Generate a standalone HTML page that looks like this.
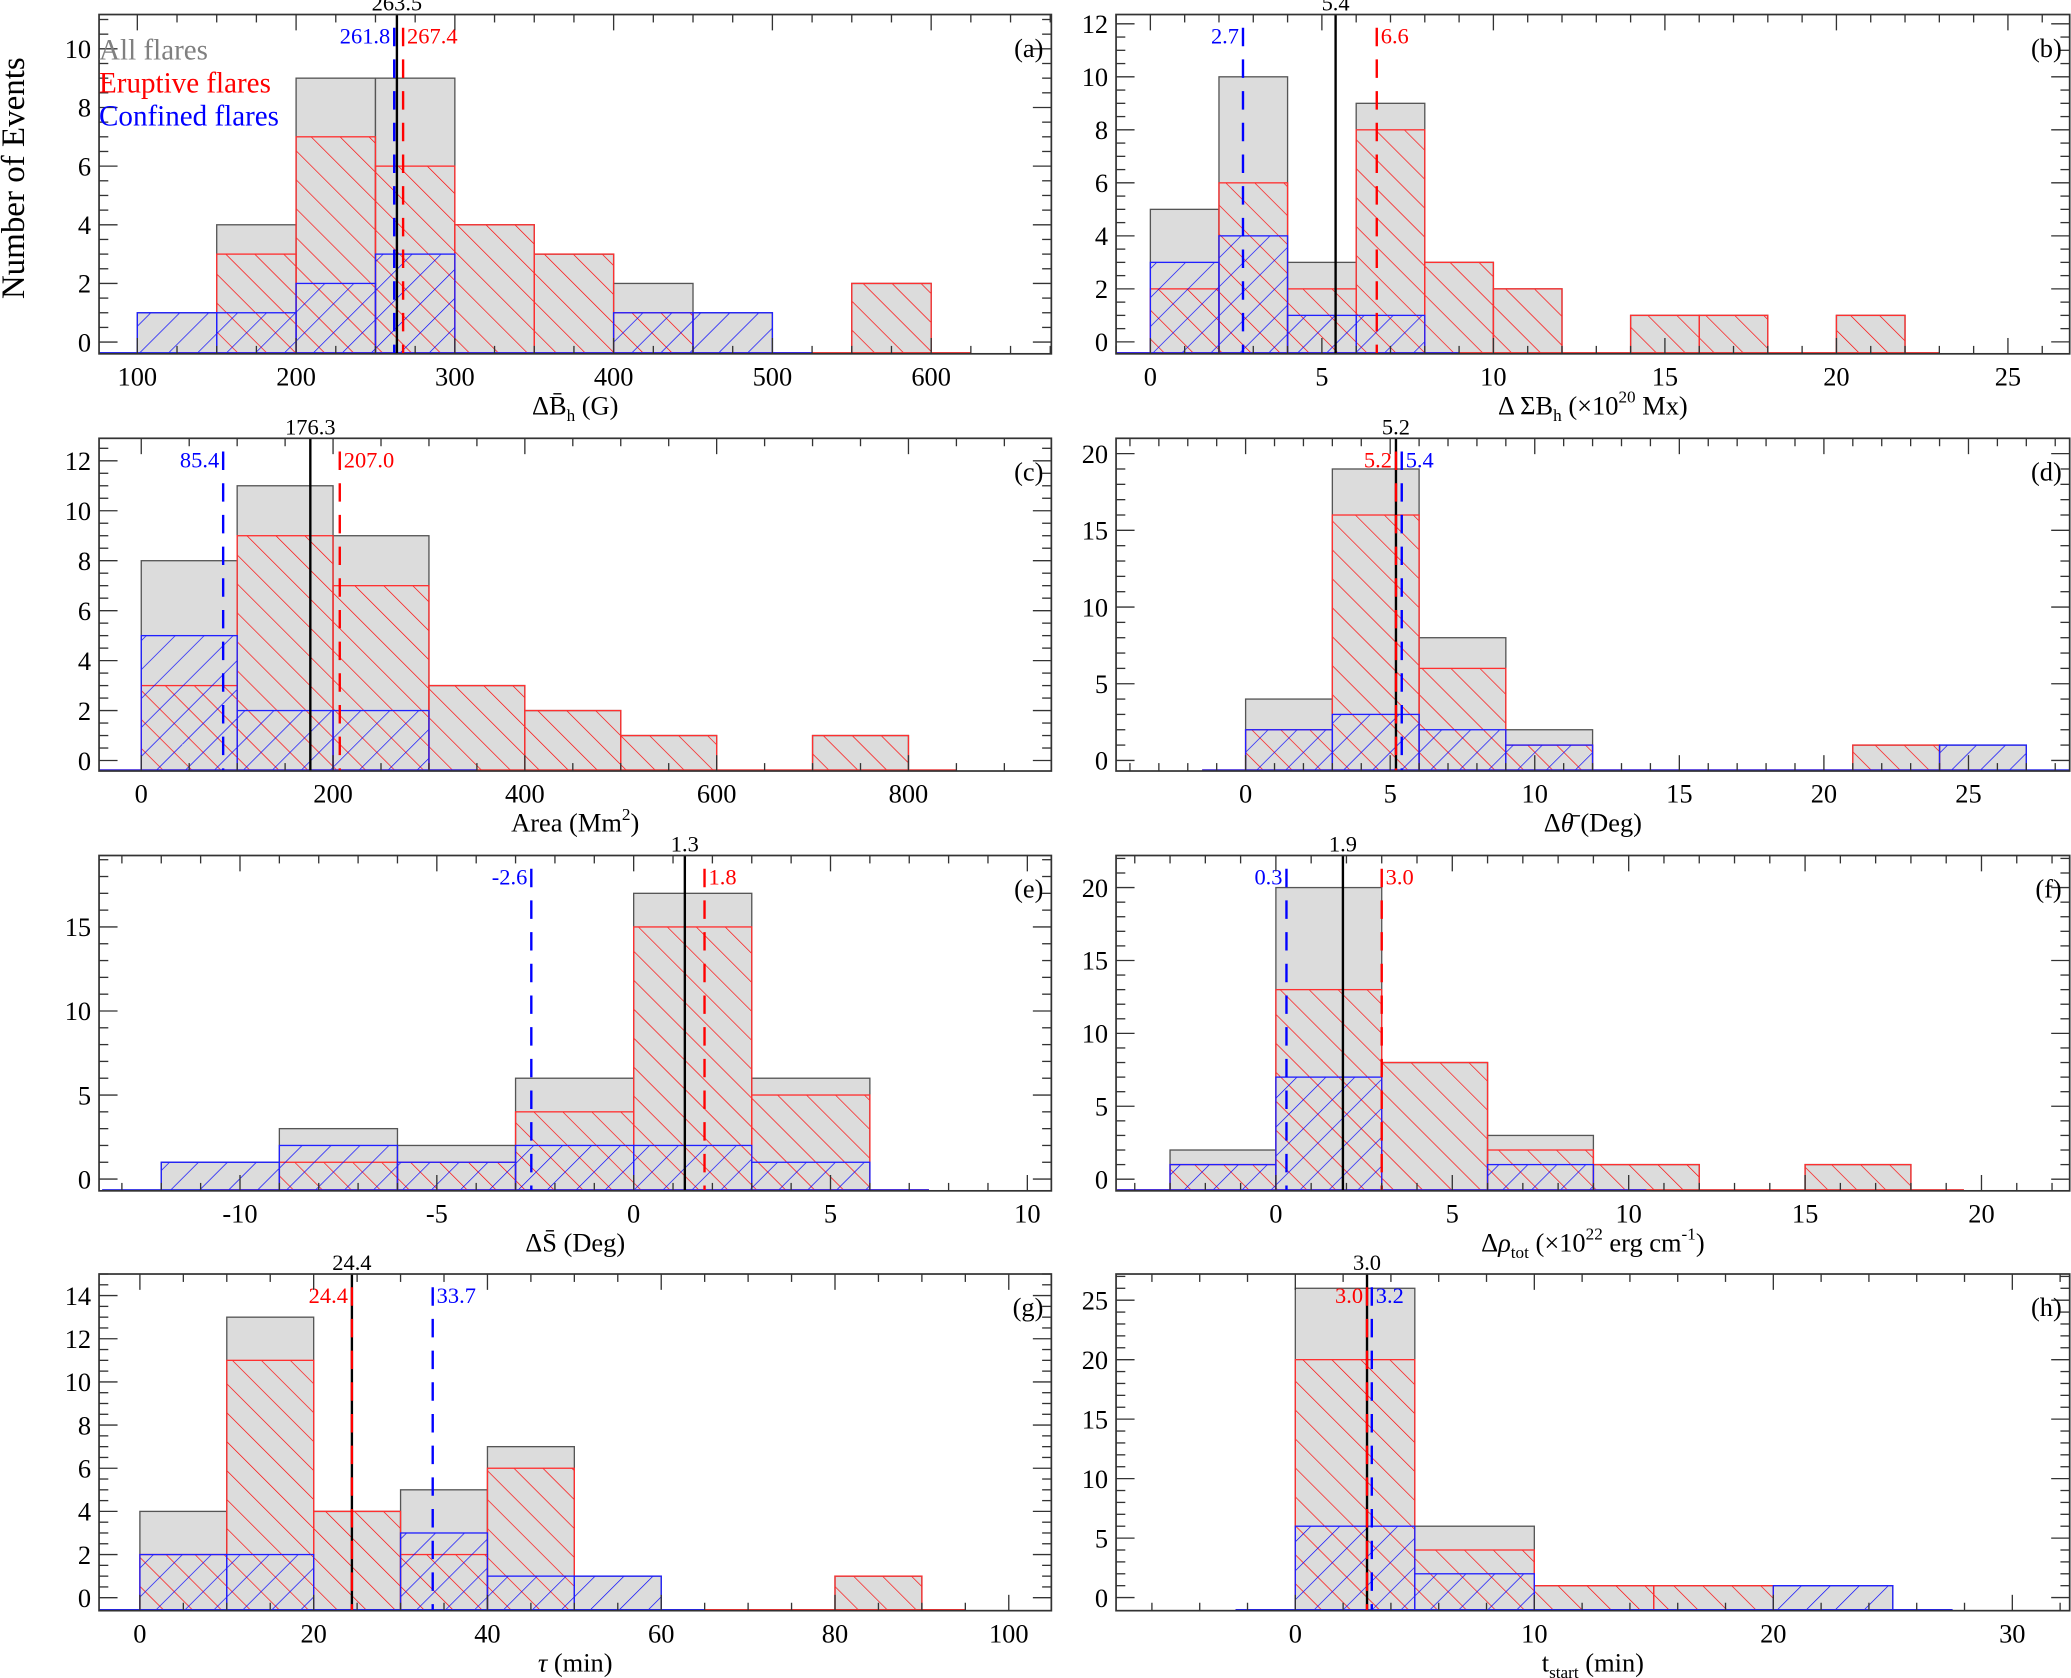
<!DOCTYPE html>
<html><head><meta charset="utf-8">
<style>
html,body{margin:0;padding:0;background:#fff;}
svg{display:block;}
text{font-family:"Liberation Serif",serif;}
</style></head>
<body>
<svg id="fig" width="2071" height="1678" viewBox="0 0 1568 1271" preserveAspectRatio="none" xmlns="http://www.w3.org/2000/svg">
<defs>
<pattern id="hatchRed" patternUnits="userSpaceOnUse" width="15.5" height="15.5" patternTransform="rotate(-45)">
<line x1="0" y1="0" x2="0" y2="15.5" stroke="#ff0000" stroke-width="1"/>
</pattern>
<pattern id="hatchBlue" patternUnits="userSpaceOnUse" width="15.5" height="15.5" patternTransform="rotate(45)">
<line x1="0" y1="0" x2="0" y2="15.5" stroke="#0000ff" stroke-width="1"/>
</pattern>
</defs>
<rect x="0" y="0" width="1568" height="1271" fill="#fff"/>
</svg>
<script>
// ---- Panel (a) ----
const aStart = 100, aWidth = 50;
const aAll = [1,4,9,9,4,3,2,1,0,2];
const aErupt = [0,3,7,6,4,3,1,0,0,2];
const aConf = [1,1,2,3,0,0,1,1,0,0];
const aMeans = [263.5, 261.8, 267.4];
const aXTicks = [100,200,300,400,500,600];
const aYTicks = [0,2,4,6,8,10];
// ---- Panel (b) ----
const bStart = 0, bWidth = 2;
const bAll = [5,10,3,9,3,2,0,1,1,0,1];
const bErupt = [2,6,2,8,3,2,0,1,1,0,1];
const bConf = [3,4,1,1,0,0,0,0,0,0,0];
const bMeans = [5.4, 2.7, 6.6];
const bXTicks = [0,5,10,15,20,25];
const bYTicks = [0,2,4,6,8,10,12];
// ---- Panel (c) ----
const cStart = 0, cWidth = 100;
const cAll = [8,11,9,3,2,1,0,1];
const cErupt = [3,9,7,3,2,1,0,1];
const cConf = [5,2,2,0,0,0,0,0];
const cMeans = [176.3, 85.4, 207.0];
const cXTicks = [0,200,400,600,800];
const cYTicks = [0,2,4,6,8,10,12];
// ---- Panel (d) ----
const dStart = 0, dWidth = 3;
const dAll = [4,19,8,2,0,0,0,1,1];
const dErupt = [2,16,6,1,0,0,0,1,0];
const dConf = [2,3,2,1,0,0,0,0,1];
const dMeans = [5.2, 5.4, 5.2];
const dXTicks = [0,5,10,15,20,25];
const dYTicks = [0,5,10,15,20];
// ---- Panel (e) ----
const eStart = -12, eWidth = 3;
const eAll = [1,3,2,6,17,6];
const eErupt = [0,1,1,4,15,5];
const eConf = [1,2,1,2,2,1];
const eMeans = [1.3, -2.6, 1.8];
const eXTicks = [-10,-5,0,5,10];
const eYTicks = [0,5,10,15];
// ---- Panel (f) ----
const fStart = -3, fWidth = 3;
const fAll = [2,20,8,3,1,0,1];
const fErupt = [1,13,8,2,1,0,1];
const fConf = [1,7,0,1,0,0,0];
const fMeans = [1.9, 0.3, 3.0];
const fXTicks = [0,5,10,15,20];
const fYTicks = [0,5,10,15,20];
// ---- Panel (g) ----
const gStart = 0, gWidth = 10;
const gAll = [4,13,4,5,7,1,0,0,1];
const gErupt = [2,11,4,2,6,0,0,0,1];
const gConf = [2,2,0,3,1,1,0,0,0];
const gMeans = [24.4, 33.7, 24.4];
const gXTicks = [0,20,40,60,80,100];
const gYTicks = [0,2,4,6,8,10,12,14];
// ---- Panel (h) ----
const hStart = 0, hWidth = 5;
const hAll = [26,6,1,1,1];
const hErupt = [20,4,1,1,0];
const hConf = [6,2,0,0,1];
const hMeans = [3.0, 3.2, 3.0];
const hXTicks = [0,10,20,30];
const hYTicks = [0,5,10,15,20,25];

const NS = "http://www.w3.org/2000/svg";
const svg = document.getElementById('fig');
function mk(tag, attrs, parent){
  const e = document.createElementNS(NS, tag);
  for (const k in attrs) e.setAttribute(k, attrs[k]);
  (parent||svg).appendChild(e);
  return e;
}

function drawPanel(p){
  const g = mk('g', {});
  
  
  const X = v => p.L + (v - p.xmin) / (p.xmax - p.xmin) * (p.R - p.L);
  const Y = v => p.B - (v - p.ymin) / (p.ymax - p.ymin) * (p.B - p.T);
  const clipId = 'clip' + p.id;
  const cp = mk('clipPath', {id: clipId}, g);
  mk('rect', {x:p.L, y:p.T, width:p.R-p.L, height:p.B-p.T}, cp);
  const plot = mk('g', {'clip-path':'url(#'+clipId+')'}, g);

  function bars(arr, fill, stroke, name){
    const grp = mk('g', {}, plot);
    
    
    let first=-1, last=-1;
    arr.forEach((v,i)=>{
      if (v<=0) return;
      if (first<0) first=i; last=i;
      const x0 = X(p.start + i*p.w), x1 = X(p.start + (i+1)*p.w);
      const r = mk('rect', {x:x0, y:Y(v), width:x1-x0, height:p.B - Y(v), fill:fill, stroke:stroke, 'stroke-width':1}, grp);
      
      
    });
    if (first>=0){
      mk('line', {x1:X(p.start + first*p.w - p.w/2), x2:X(p.start + (last+1)*p.w + p.w/2), y1:p.B-0.5, y2:p.B-0.5, stroke:stroke, 'stroke-width':1.5}, grp);
    }
  }
  bars(p.all, '#dcdcdc', '#555', 'all-flares-hist');
  bars(p.er, 'url(#hatchRed)', '#ff3030', 'eruptive-flares-hist');
  bars(p.co, 'url(#hatchBlue)', '#2020ff', 'confined-flares-hist');

  const [mAll, mBlue, mRed] = p.means;
  const mg = mk('g', {}, g);
  
  
  mk('line', {x1:X(mAll), x2:X(mAll), y1:p.T, y2:p.B, stroke:'#000', 'stroke-width':1.8}, mg);
  mk('line', {x1:X(mBlue), x2:X(mBlue), y1:p.T+10, y2:p.B, stroke:'#0000ff', 'stroke-width':1.8, 'stroke-dasharray':'14,10'}, mg);
  mk('line', {x1:X(mRed), x2:X(mRed), y1:p.T+10, y2:p.B, stroke:'#ff0000', 'stroke-width':1.8, 'stroke-dasharray':'14,10'}, mg);
  const lt = mk('text', {x:X(mAll), y:p.T-3, 'text-anchor':'middle', 'font-size':17, fill:'#000'}, mg);
  lt.textContent = mAll.toFixed(1);
  
  
  const blueLeft = mBlue < mRed || (mBlue===mRed);
  const bt = mk('text', {x: blueLeft ? X(mBlue)-3 : X(mBlue)+3, y:p.T+22, 'text-anchor': blueLeft?'end':'start', 'font-size':17, fill:'#0000ff'}, mg);
  bt.textContent = mBlue.toFixed(1);
  
  
  const rt = mk('text', {x: blueLeft ? X(mRed)+3 : X(mRed)-3, y:p.T+22, 'text-anchor': blueLeft?'start':'end', 'font-size':17, fill:'#ff0000'}, mg);
  rt.textContent = mRed.toFixed(1);
  
  

  const fr = mk('rect', {x:p.L, y:p.T, width:p.R-p.L, height:p.B-p.T, fill:'none', stroke:'#333', 'stroke-width':1.3}, g);
  
  

  const xa = mk('g', {}, g);
  
  
  const xstep = p.xt[1]-p.xt[0];
  for (let v = p.xt[0] - xstep*3; v <= p.xmax + 1e-9; v += xstep/p.xm){
    if (v < p.xmin - 1e-9) continue;
    const isMaj = Math.abs(((v - p.xt[0]) / xstep) - Math.round((v - p.xt[0]) / xstep)) < 1e-6;
    const len = isMaj ? 12 : 6;
    mk('line', {x1:X(v), x2:X(v), y1:p.B, y2:p.B-len, stroke:'#333', 'stroke-width':1}, xa);
    mk('line', {x1:X(v), x2:X(v), y1:p.T, y2:p.T+len, stroke:'#333', 'stroke-width':1}, xa);
  }
  p.xt.forEach(v=>{
    const t = mk('text', {x:X(v), y:p.B+24, 'text-anchor':'middle', 'font-size':20}, xa);
    t.textContent = v;
    
    
  });
  const ya = mk('g', {}, g);
  
  
  const ystep = p.yt[1]-p.yt[0];
  for (let v = 0; v <= p.ymax + 1e-9; v += ystep/p.ym){
    const isMaj = Math.abs((v/ystep) - Math.round(v/ystep)) < 1e-6;
    const len = isMaj ? 14 : 7;
    mk('line', {x1:p.L, x2:p.L+len, y1:Y(v), y2:Y(v), stroke:'#333', 'stroke-width':1}, ya);
    mk('line', {x1:p.R, x2:p.R-len, y1:Y(v), y2:Y(v), stroke:'#333', 'stroke-width':1}, ya);
  }
  p.yt.forEach(v=>{
    const t = mk('text', {x:p.L-6, y:Y(v)+7, 'text-anchor':'end', 'font-size':20}, ya);
    t.textContent = v;
    
    
  });
  const pl = mk('text', {x:p.R-6, y:p.T+32, 'text-anchor':'end', 'font-size':20}, g);
  pl.textContent = '(' + p.id + ')';
  
  
  const xt = mk('text', {x:(p.L+p.R)/2, y:p.B+46, 'text-anchor':'middle', 'font-size':20}, g);
  xt.innerHTML = p.title;
  
  
}

const LL=75, LR=796, RL=845, RR=1567;
drawPanel({id:'a', L:LL, R:LR, T:11, B:268, xmin:75.9, xmax:675.7, ymin:-0.4, ymax:11.17, start:aStart, w:aWidth, all:aAll, er:aErupt, co:aConf, means:aMeans, xt:aXTicks, xm:4, yt:aYTicks, ym:4,
  title:'ΔB̄<tspan font-size="13" dy="5">h</tspan><tspan dy="-5"> (G)</tspan>'});
drawPanel({id:'b', L:RL, R:RR, T:11, B:268, xmin:-1.0, xmax:26.8, ymin:-0.45, ymax:12.35, start:bStart, w:bWidth, all:bAll, er:bErupt, co:bConf, means:bMeans, xt:bXTicks, xm:5, yt:bYTicks, ym:4,
  title:'Δ ΣB<tspan font-size="13" dy="5">h</tspan><tspan dy="-5"> (×10</tspan><tspan font-size="13" dy="-9">20</tspan><tspan dy="9"> Mx)</tspan>'});
drawPanel({id:'c', L:LL, R:LR, T:332, B:584, xmin:-44, xmax:949, ymin:-0.42, ymax:12.9, start:cStart, w:cWidth, all:cAll, er:cErupt, co:cConf, means:cMeans, xt:cXTicks, xm:4, yt:cYTicks, ym:4,
  title:'Area (Mm<tspan font-size="13" dy="-9">2</tspan><tspan dy="9">)</tspan>'});
drawPanel({id:'d', L:RL, R:RR, T:332, B:584, xmin:-4.48, xmax:28.5, ymin:-0.69, ymax:21.0, start:dStart, w:dWidth, all:dAll, er:dErupt, co:dConf, means:dMeans, xt:dXTicks, xm:5, yt:dYTicks, ym:5,
  title:'Δ<tspan font-style="italic">θ̄</tspan> (Deg)'});
drawPanel({id:'e', L:LL, R:LR, T:648, B:902, xmin:-13.58, xmax:10.61, ymin:-0.7, ymax:19.25, start:eStart, w:eWidth, all:eAll, er:eErupt, co:eConf, means:eMeans, xt:eXTicks, xm:5, yt:eYTicks, ym:5,
  title:'ΔS̄ (Deg)'});
drawPanel({id:'f', L:RL, R:RR, T:648, B:902, xmin:-4.53, xmax:22.5, ymin:-0.8, ymax:22.2, start:fStart, w:fWidth, all:fAll, er:fErupt, co:fConf, means:fMeans, xt:fXTicks, xm:5, yt:fYTicks, ym:5,
  title:'Δ<tspan font-style="italic">ρ</tspan><tspan font-size="13" dy="5">tot</tspan><tspan dy="-5"> (×10</tspan><tspan font-size="13" dy="-9">22</tspan><tspan dy="9"> erg cm</tspan><tspan font-size="13" dy="-9">-1</tspan><tspan dy="9">)</tspan>'});
drawPanel({id:'g', L:LL, R:LR, T:965, B:1220, xmin:-4.7, xmax:104.9, ymin:-0.6, ymax:15.0, start:gStart, w:gWidth, all:gAll, er:gErupt, co:gConf, means:gMeans, xt:gXTicks, xm:4, yt:gYTicks, ym:4,
  title:'<tspan font-style="italic">τ</tspan> (min)'});
drawPanel({id:'h', L:RL, R:RR, T:965, B:1220, xmin:-7.5, xmax:32.4, ymin:-1.1, ymax:27.2, start:hStart, w:hWidth, all:hAll, er:hErupt, co:hConf, means:hMeans, xt:hXTicks, xm:5, yt:hYTicks, ym:5,
  title:'t<tspan font-size="13" dy="5">start</tspan><tspan dy="-5"> (min)</tspan>'});

const yTitle = mk('text', {x:0, y:0, 'text-anchor':'middle', 'font-size':25, transform:'translate(18,135) rotate(-90)'});
yTitle.textContent = 'Number of Events';


const legend = mk('g', {});


[['All flares','#808080',45],['Eruptive flares','#ff0000',70],['Confined flares','#0000ff',95]].forEach(([s,c,y])=>{
  const t = mk('text', {x:75, y:y, 'font-size':22, fill:c}, legend);
  t.textContent = s;
  
  
});
</script>
</body></html>
